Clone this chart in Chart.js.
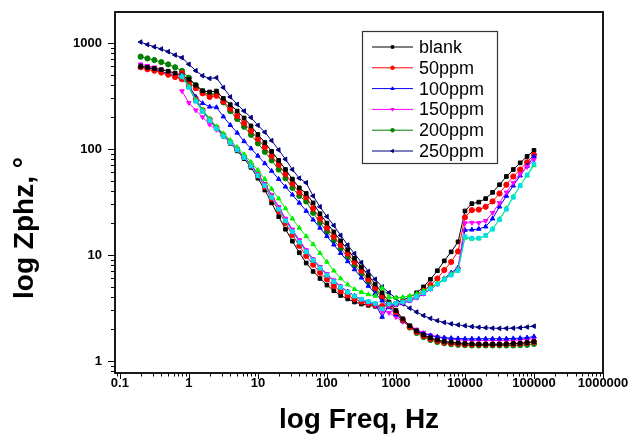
<!DOCTYPE html>
<html>
<head>
<meta charset="utf-8">
<script src="https://cdn.jsdelivr.net/npm/chart.js@4.4.1/dist/chart.umd.min.js"></script>
<style>
  html, body { margin: 0; padding: 0; background: #fff; }
  #wrap { width: 633px; height: 437px; }
</style>
</head>
<body>
<div id="wrap"><canvas id="chart" width="633" height="437"></canvas></div>
<script>
// frequency points, Hz (10 per decade, 0.2 Hz .. 100 kHz)
const freq = [0.2, 0.251, 0.316, 0.398, 0.501, 0.631, 0.794, 1, 1.26, 1.58,
  2, 2.51, 3.16, 3.98, 5.01, 6.31, 7.94, 10, 12.6, 15.8,
  20, 25.1, 31.6, 39.8, 50.1, 63.1, 79.4, 100, 126, 158,
  200, 251, 316, 398, 501, 631, 794, 1000, 1259, 1585,
  1995, 2512, 3162, 3981, 5012, 6310, 7943, 10000, 12589, 15849,
  19953, 25119, 31623, 39811, 50119, 63096, 79433, 100000];

const xTickValues = [0.1, 1, 10, 100, 1000, 10000, 100000, 1000000];
const xTickLabels = ['0.1', '1', '10', '100', '1000', '10000', '100000', '1000000'];
const yTickValues = [1, 10, 100, 1000];
const yTickLabels = ['1', '10', '100', '1000'];
const legendLabels = ['blank', '50ppm', '100ppm', '150ppm', '200ppm', '250ppm'];

// curves that fall to ~1.5 at high frequency
const blankHi = [600, 588, 575, 560, 542, 520, 495, 455, 400, 355, 345, 352, 300, 262, 228, 196, 165, 137,
  115, 95, 78, 64, 52, 43, 38, 31, 24.5, 20,
  16.5, 13.6, 11.2, 9.3, 7.7, 6.4, 5.3, 4.4, 3.6, 3.0,
  2.5, 2.15, 1.92, 1.76, 1.65, 1.58, 1.53, 1.5, 1.48, 1.46,
  1.45, 1.44, 1.44, 1.44, 1.44, 1.45, 1.46, 1.47, 1.49, 1.52];
const ppm50Hi = [590, 565, 548, 526, 502, 478, 455, 430, 375, 335, 310, 318, 280, 240, 205, 175, 148, 124,
  104, 86, 71, 58, 47, 39, 35, 27.5, 22, 18,
  14.9, 12.4, 10.3, 8.6, 7.1, 5.9, 4.9, 4.1, 3.45, 2.9,
  2.45, 2.1, 1.88, 1.72, 1.62, 1.55, 1.5, 1.47, 1.45, 1.44,
  1.43, 1.43, 1.43, 1.43, 1.43, 1.44, 1.45, 1.46, 1.48, 1.51];
const ppm100Hi = [610, 585, 565, 540, 515, 488, 460, 400, 310, 270, 250, 247, 202, 168, 142, 118, 101, 86,
  73, 62, 52, 44, 37, 31, 26, 21.5, 18, 15,
  12.5, 10.4, 8.7, 7.3, 6.1, 5.1, 4.35, 3.7, 3.2, 2.75,
  2.4, 2.12, 1.94, 1.82, 1.74, 1.69, 1.66, 1.64, 1.63, 1.62,
  1.62, 1.62, 1.62, 1.62, 1.62, 1.62, 1.63, 1.64, 1.66, 1.7];
const ppm150Hi = [630, 610, 590, 565, 540, 510, 480, 390, 300, 235, 190, 160, 136, 117, 100, 85, 71, 59,
  47, 37, 28.5, 22, 17.3, 13.7, 11, 9.1, 7.7, 6.6,
  5.75, 5.05, 4.5, 4.1, 3.8, 3.55, 3.35, 3.0, 2.85, 2.6,
  2.35, 2.15, 1.98, 1.85, 1.75, 1.68, 1.63, 1.6, 1.58, 1.57,
  1.56, 1.56, 1.56, 1.56, 1.56, 1.56, 1.57, 1.58, 1.6, 1.62];
const ppm200Hi = [743, 715, 690, 660, 628, 590, 545, 470, 400, 345, 325, 332, 275, 228, 192, 162, 136, 113,
  94, 78, 64, 53, 43, 36, 32, 25, 20.2, 16.6,
  13.8, 11.5, 9.6, 8.0, 6.7, 5.6, 4.7, 3.95, 3.35, 2.85,
  2.4, 2.07, 1.84, 1.68, 1.58, 1.51, 1.47, 1.44, 1.42, 1.41,
  1.4, 1.4, 1.4, 1.4, 1.4, 1.4, 1.4, 1.41, 1.42, 1.45];
const ppm250Hi = [1020, 965, 920, 878, 828, 770, 727, 630, 548, 491, 463, 470, 380, 310, 264, 228, 198, 167,
  144, 120, 98, 80, 64, 53, 48, 36, 28.5, 23,
  19, 15.3, 12.4, 10.3, 8.5, 7.0, 5.9, 5.0, 4.4, 3.9,
  3.45, 3.15, 2.9, 2.68, 2.52, 2.4, 2.31, 2.24, 2.19, 2.15,
  2.11, 2.08, 2.06, 2.04, 2.03, 2.03, 2.04, 2.06, 2.09, 2.13];

// curves that start at 0.8 Hz and climb again above 1 kHz
const blankLo = [null, null, null, null, null, null,
  510, 390, 285, 228, 186, 156, 132, 113, 96, 81, 67, 53,
  41, 31, 23, 17.5, 13.5, 10.5, 8.4, 7.0, 6.0, 5.2,
  4.6, 4.15, 3.85, 3.6, 3.45, 3.35, 3.28, 3.25, 3.35, 3.5,
  3.75, 4.0, 4.4, 5.0, 5.9, 7.1, 8.8, 10.7, 13.3, 26,
  30.5, 31.5, 34, 39, 46, 55, 64, 74, 85, 97];
const ppm50Lo = [null, null, null, null, null, null,
  520, 400, 292, 232, 190, 159, 135, 116, 99, 84, 70, 56,
  44, 34, 26, 20, 15.5, 12.2, 9.8, 8.1, 6.8, 5.9,
  5.1, 4.55, 4.15, 3.85, 3.62, 3.47, 3.37, 3.3, 3.32, 3.42,
  3.6, 3.8, 4.1, 4.6, 5.2, 6.0, 7.2, 8.6, 10.8, 22.7,
  26.5, 26.8, 28.5, 32, 38, 46, 55, 64, 75, 88];
const ppm100Lo = [null, null, null, null, null, null,
  500, 385, 285, 228, 187, 157, 134, 115, 99, 84, 70, 57,
  45.5, 35.5, 27.5, 21.5, 17, 13.5, 10.9, 9.0, 7.6, 6.5,
  5.65, 5.0, 4.5, 4.1, 3.8, 3.6, 3.45, 2.6, 3.38, 3.4,
  3.5, 3.7, 3.95, 4.3, 4.75, 5.3, 6.0, 6.8, 7.6, 17.2,
  17.3, 17.6, 18.5, 22, 28.5, 36, 45, 56, 69, 85];
const ppm150Lo = [null, null, null, null, null, null,
  352, 272, 232, 200, 170, 152, 133, 116, 100, 85, 71, 58,
  46, 36, 28, 22, 17.4, 13.8, 11.1, 9.1, 7.7, 6.6,
  5.75, 5.05, 4.5, 4.1, 3.8, 3.6, 3.45, 2.9, 3.36, 3.42,
  3.52, 3.72, 3.97, 4.32, 4.78, 5.3, 5.95, 6.65, 7.4, 20,
  20.2, 20.1, 21, 25, 31, 39, 48, 58, 68, 79];
const cyanLo = [null, null, null, null, null, null,
  480, 380, 282, 226, 185, 155, 132, 114, 98, 83, 69, 56,
  45, 35, 27, 21, 16.6, 13.2, 10.7, 8.9, 7.5, 6.45,
  5.6, 4.95, 4.45, 4.08, 3.82, 3.63, 3.5, 3.1, 3.45, 3.5,
  3.6, 3.8, 4.05, 4.4, 4.8, 5.3, 5.85, 6.45, 7.1, 14.9,
  14.4, 14.4, 15.3, 17.5, 21.5, 27, 35, 45, 57, 72];
const limeLo = [null, null, null, null, null, null,
  490, 390, 290, 234, 193, 163, 140, 121, 104, 89, 75, 63,
  52, 42, 34, 27.5, 22, 18, 15, 12.6, 10.4, 8.6,
  7.1, 6.0, 5.25, 4.75, 4.45, 4.25, 4.1, 4.9, 4.0, 3.95,
  4.0, 4.1, 4.3, 4.6, 4.95, 5.4, 5.95, 6.6, 7.3, 14.5,
  14.2, 14.3, 15.2, 17.6, 21.8, 27.5, 35.5, 45, 56, 70];

const FONT = 'Arial, "Liberation Sans", Helvetica, sans-serif';

function line(label, vals, color, style, rot, legend) {
  return {
    label,
    data: freq.map((f, i) => ({ x: f, y: vals[i] })),
    borderColor: color,
    backgroundColor: color,
    borderWidth: 1,
    pointStyle: style,
    pointRotation: rot,
    pointRadius: 2.6,
    pointBorderWidth: 1,
    fill: false,
    tension: 0,
    legend,
  };
}

const datasets = [
  line('cyan', cyanLo, '#00e0e8', 'rect', 0, false),
  line('lime', limeLo, '#00f000', 'triangle', 0, false),
  line('150 lo', ppm150Lo, '#ff00ff', 'triangle', 180, false),
  line('100 lo', ppm100Lo, '#0000ff', 'triangle', 0, false),
  line('50 lo', ppm50Lo, '#ff0000', 'circle', 0, false),
  line('blank lo', blankLo, '#000000', 'rect', 0, false),
  line(legendLabels[0], blankHi, '#000000', 'rect', 0, true),
  line(legendLabels[1], ppm50Hi, '#ff0000', 'circle', 0, true),
  line(legendLabels[2], ppm100Hi, '#0000ff', 'triangle', 0, true),
  line(legendLabels[3], ppm150Hi, '#ff00ff', 'triangle', 180, true),
  line(legendLabels[4], ppm200Hi, '#008000', 'circle', 0, true),
  line(legendLabels[5], ppm250Hi, '#000080', 'triangle', 270, true),
];

// frame, minor ticks, rotated y title and the boxed legend
const decor = {
  id: 'decor',
  afterDatasetsDraw(chart) {
    const { ctx, chartArea: a, scales: { x, y } } = chart;
    ctx.save();
    ctx.strokeStyle = '#000';
    ctx.lineWidth = 1;
    ctx.beginPath();
    for (let e = -2; e <= 6; e++) {
      for (let k = 1; k <= 9; k++) {
        const v = k * Math.pow(10, e);
        if (v >= x.min && v <= x.max) {
          const px = Math.round(x.getPixelForValue(v)) + 0.5;
          ctx.moveTo(px, a.bottom);
          ctx.lineTo(px, a.bottom + (k === 1 ? 6 : 3.5));
        }
        if (v >= y.min && v <= y.max) {
          const py = Math.round(y.getPixelForValue(v)) + 0.5;
          ctx.moveTo(a.left, py);
          ctx.lineTo(a.left - (k === 1 ? 7 : 4), py);
        }
      }
    }
    ctx.stroke();
    ctx.lineWidth = 1.8;
    ctx.strokeRect(a.left, a.top, a.right - a.left, a.bottom - a.top);

    // y title
    ctx.save();
    ctx.translate(33, 228);
    ctx.rotate(-Math.PI / 2);
    ctx.fillStyle = '#000';
    ctx.font = 'bold 28px ' + FONT;
    ctx.textAlign = 'center';
    ctx.textBaseline = 'alphabetic';
    ctx.fillText('log Zphz, °', 0, 0);
    ctx.restore();

    // legend
    const bx = 362, by = 31, bw = 135, bh = 132;
    ctx.fillStyle = '#fff';
    ctx.fillRect(bx, by, bw, bh);
    ctx.lineWidth = 1.2;
    ctx.strokeStyle = '#333';
    ctx.strokeRect(bx + 0.5, by + 0.5, bw, bh);
    ctx.font = '18px ' + FONT;
    ctx.textAlign = 'left';
    ctx.textBaseline = 'middle';
    chart.data.datasets.filter(d => d.legend).forEach((d, i) => {
      const ry = by + 16 + i * 20.8;
      ctx.strokeStyle = d.borderColor;
      ctx.lineWidth = 1;
      ctx.beginPath();
      ctx.moveTo(372, ry);
      ctx.lineTo(413, ry);
      ctx.stroke();
      ctx.fillStyle = d.borderColor;
      Chart.helpers.drawPoint(ctx, { pointStyle: d.pointStyle, rotation: d.pointRotation, radius: 1.8, borderWidth: 1 }, 392.5, ry);
      ctx.fillStyle = '#000';
      ctx.fillText(d.label, 419, ry + 1);
    });
    ctx.restore();
  }
};

new Chart(document.getElementById('chart').getContext('2d'), {
  type: 'line',
  data: { datasets },
  options: {
    responsive: false,
    animation: false,
    layout: { padding: { top: 12, right: 30, left: 0, bottom: 0 } },
    scales: {
      x: {
        type: 'logarithmic',
        min: 0.085,
        max: 1000000,
        afterBuildTicks: s => { s.ticks = xTickValues.map(v => ({ value: v })); },
        afterFit: s => { s.height = 64; },
        ticks: {
          callback: (v, i) => xTickLabels[i],
          font: { family: FONT, size: 13, weight: 'bold' },
          color: '#000',
          padding: 3,
          maxRotation: 0,
          autoSkip: false,
        },
        grid: { display: false, drawTicks: false },
        border: { display: false },
        title: {
          display: true,
          text: 'log Freq, Hz',
          color: '#000',
          font: { family: FONT, size: 28, weight: 'bold' },
          padding: { top: 0, bottom: 0 },
        },
      },
      y: {
        type: 'logarithmic',
        min: 0.77,
        max: 1960,
        afterBuildTicks: s => { s.ticks = yTickValues.map(v => ({ value: v })); },
        afterFit: s => { s.width = 115; s.paddingTop = 0; s.paddingBottom = 0; },
        ticks: {
          callback: (v, i) => yTickLabels[i],
          font: { family: FONT, size: 13, weight: 'bold' },
          color: '#000',
          padding: 13,
          autoSkip: false,
        },
        grid: { display: false, drawTicks: false },
        border: { display: false },
      },
    },
    plugins: { legend: { display: false }, tooltip: { enabled: false } },
  },
  plugins: [decor],
});
</script>
</body>
</html>
